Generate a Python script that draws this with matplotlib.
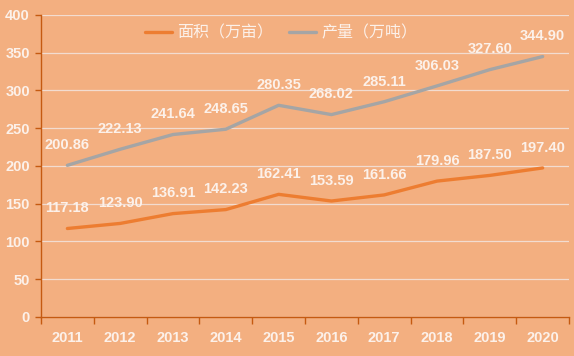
import numpy as np
import matplotlib.pyplot as plt

plt.rcParams['font.family'] = ['Noto Sans CJK SC', 'DejaVu Sans']

# Data
years = ['2011', '2012', '2013', '2014', '2015', '2016', '2017', '2018', '2019', '2020']
area = [117.18, 123.90, 136.91, 142.23, 162.41, 153.59, 161.66, 179.96, 187.50, 197.40]
output = [200.86, 222.13, 241.64, 248.65, 280.35, 268.02, 285.11, 306.03, 327.60, 344.90]
series_names = ['面积（万亩）', '产量（万吨）']

bg = '#F3AF80'
txt = '#FCF1EA'
axis_col = '#C55A11'
num_font = 'Liberation Sans'

fig = plt.figure(figsize=(5.74, 3.56), dpi=100, facecolor=bg)
ax = fig.add_axes([0.0714, 0.1096, 0.92, 0.8484], facecolor=bg)

x = np.arange(len(years))
ax.plot(x, area, color='#ED7D31', lw=2.4, label=series_names[0], solid_capstyle='round')
ax.plot(x, output, color='#A5A5A5', lw=2.4, label=series_names[1], solid_capstyle='round')

# Data labels
for ys in (area, output):
    for xi, yi in zip(x, ys):
        ax.annotate(f"{yi:.2f}", (xi, yi), xytext=(0, 14.5), textcoords='offset points',
                    ha='center', va='center', color=txt, fontsize=10.5, fontweight='bold',
                    family=num_font)

ax.set_xlim(-0.5, len(years) - 0.5)
ax.set_ylim(0, 400)
ax.set_yticks(np.arange(0, 401, 50))
ax.set_xticks(x)
ax.set_xticklabels(years)
ax.set_xticks(np.arange(-0.5, len(years)), minor=True)
ax.tick_params(axis='x', which='major', length=0, pad=10)
ax.tick_params(axis='x', which='minor', length=5, color=axis_col, width=1)
ax.tick_params(axis='y', length=4, color=axis_col, width=1, pad=4)
for lab in ax.get_xticklabels() + ax.get_yticklabels():
    lab.set_color(txt)
    lab.set_fontweight('bold')
    lab.set_fontsize(10.5)
    lab.set_family(num_font)

ax.grid(axis='y', color='#F2DCD0', lw=0.9)
ax.set_axisbelow(True)
for s in ['top', 'right']:
    ax.spines[s].set_visible(False)
for s in ['left', 'bottom']:
    ax.spines[s].set_color(axis_col)
    ax.spines[s].set_linewidth(1)

leg = ax.legend(loc='upper center', bbox_to_anchor=(0.455, 1.015), ncol=2, frameon=False,
                fontsize=11.5, handlelength=1.7, handletextpad=0.3, columnspacing=1.0)
for t in leg.get_texts():
    t.set_color(txt)

fig.savefig('out.png', dpi=100, facecolor=bg)
